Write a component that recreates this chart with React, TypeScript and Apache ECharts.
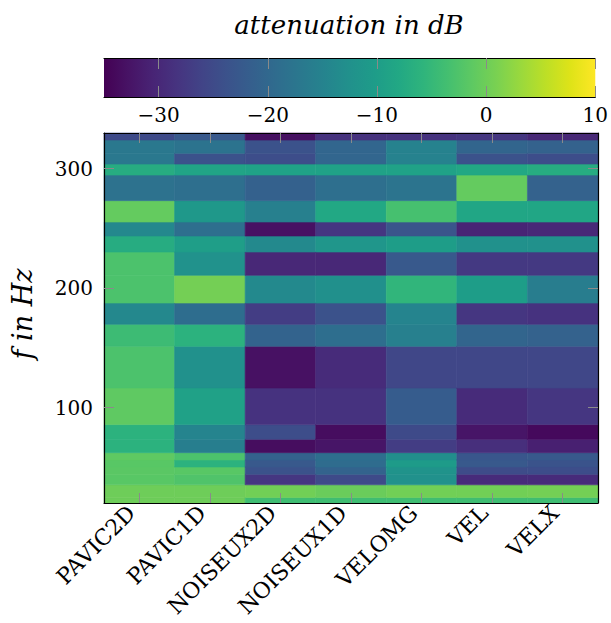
import React, { useEffect, useRef } from "react";
import * as echarts from "echarts";

const categories = ["PAVIC2D", "PAVIC1D", "NOISEUX2D", "NOISEUX1D", "VELOMG", "VEL", "VELX"];

// frequency band edges in Hz (bottom to top), 22 bands
const bandEdges = [20.2, 24.7, 35.4, 44.2, 50.3, 56.2, 62.3, 73.5, 85.8, 116.4, 151.3, 169.7, 187.5, 210.7, 230.2, 243.6, 255.3, 273.2, 294.6, 303.8, 312.8, 323.9, 329.8];

// attenuation in dB for each band (bottom to top)
const pavic2d = [0, 0, -1.8, -1.6, -1.8, -1.2, -6.2, -6.2, -1.2, -2.8, -4.3, -14, -2.8, -2.8, -7.2, -14, -0.8, -18.2, -7.2, -17, -17, -25];
const pavic1d = [0, 0, -2.5, -1.8, -6.2, -2.8, -15.8, -14.7, -9.3, -12.5, -6.2, -19, 0.5, -12.2, -9.8, -18.7, -11, -18.7, -8.8, -23.7, -18, -22.5];
const noiseux2d = [-4, 0.3, -28, -23.7, -22.5, -21, -33.5, -24.5, -28.5, -33, -20.8, -27, -13.8, -30, -13.8, -33, -15.5, -21.2, -9.2, -24.5, -23.7, -33.3];
const noiseux1d = [-4, -0.3, -25, -20.8, -19.3, -18.8, -32.5, -33.5, -28.5, -29.5, -18.8, -23.7, -12.6, -30, -11.5, -28, -8, -18.7, -9.2, -20.3, -20.3, -28.7];
const velomg = [-4, 0.3, -12.5, -12, -10.5, -13, -27, -25, -22, -25.5, -15.5, -14.8, -5.5, -22.5, -10, -23.3, -3.3, -17.7, -9.2, -15.2, -15.2, -28.5];
const vel = [-4, 0.3, -29.5, -24.7, -22.5, -23, -29, -32.5, -29.5, -25.5, -20.5, -28, -10, -27.5, -12.5, -30.5, -8.4, -0.8, -8, -23.7, -20.5, -28];
const velx = [-4, 0.5, -29.5, -24.5, -23.5, -22.5, -31, -34, -28, -25.5, -21, -28.5, -16, -27.5, -12.5, -30, -8.4, -21, -7.2, -24.5, -21, -30];

const columns = [pavic2d, pavic1d, noiseux2d, noiseux1d, velomg, vel, velx];

const yTicks = [100, 200, 300];
const colorTicks = [-30, -20, -10, 0, 10];
const colorMin = -35;
const colorMax = 10;
const yMin = 20.2;
const yMax = 329.8;

const viridis = [
  "#440154", "#471365", "#482475", "#463480", "#414487", "#3b528b", "#355f8d",
  "#2f6c8e", "#2a788e", "#25848e", "#21918c", "#1e9c89", "#22a884", "#2fb47c",
  "#44bf70", "#5ec962", "#7ad151", "#9bd93c", "#bddf26", "#dfe318", "#fde725",
];

const FONT = "DejaVu Serif";
const TICK_COLOR = "#8a8a8a";

export default function App() {
  const ref = useRef<HTMLDivElement>(null);

  useEffect(() => {
    if (!ref.current) return;
    const chart = echarts.init(ref.current, undefined, { renderer: "svg" });

    const cells: number[][] = [];
    columns.forEach((col, ci) => {
      col.forEach((v, ri) => {
        cells.push([ci, bandEdges[ri], bandEdges[ri + 1], v]);
      });
    });

    const minusFmt = (v: number) => String(v).replace("-", "\u2212");

    const option: any = {
      animation: false,
      backgroundColor: "#ffffff",
      textStyle: { fontFamily: FONT },
      grid: [
        { left: 104, top: 133, width: 494, height: 370 },
        { left: 104, top: 58, width: 494, height: 39 },
      ],
      xAxis: [
        {
          type: "category",
          gridIndex: 0,
          data: categories,
          position: "bottom",
          z: 5,
          axisLine: { show: true, lineStyle: { color: "#000", width: 1.2 } },
          axisTick: { show: true, inside: true, alignWithLabel: true, interval: 0, length: 10, lineStyle: { color: TICK_COLOR } },
          axisLabel: { rotate: 45, interval: 0, margin: 14, verticalAlign: "bottom", fontFamily: FONT, fontSize: 22, color: "#000" },
          splitLine: { show: false },
        },
        {
          type: "category",
          gridIndex: 0,
          data: categories,
          position: "top",
          z: 5,
          axisLine: { show: true, lineStyle: { color: "#000", width: 1.2 } },
          axisTick: { show: true, inside: true, alignWithLabel: true, interval: 0, length: 10, lineStyle: { color: TICK_COLOR } },
          axisLabel: { show: false },
          splitLine: { show: false },
        },
        {
          type: "value",
          gridIndex: 1,
          min: colorMin,
          max: colorMax,
          position: "bottom",
          z: 5,
          axisLine: { show: true, lineStyle: { color: "#000", width: 1.2 } },
          axisTick: { show: true, inside: true, length: 11, customValues: colorTicks, lineStyle: { color: TICK_COLOR } },
          axisLabel: { customValues: colorTicks, margin: 8, fontFamily: FONT, fontSize: 20, color: "#000", formatter: minusFmt },
          splitLine: { show: false },
        },
        {
          type: "value",
          gridIndex: 1,
          min: colorMin,
          max: colorMax,
          position: "top",
          z: 5,
          axisLine: { show: true, lineStyle: { color: "#000", width: 1.2 } },
          axisTick: { show: true, inside: true, length: 11, customValues: colorTicks, lineStyle: { color: TICK_COLOR } },
          axisLabel: { show: false },
          splitLine: { show: false },
        },
      ],
      yAxis: [
        {
          type: "value",
          gridIndex: 0,
          min: yMin,
          max: yMax,
          position: "left",
          z: 5,
          axisLine: { show: true, lineStyle: { color: "#000", width: 1.2 } },
          axisTick: { show: true, inside: true, length: 10, customValues: yTicks, lineStyle: { color: TICK_COLOR } },
          axisLabel: { customValues: yTicks, margin: 11, fontFamily: FONT, fontSize: 20, color: "#000" },
          splitLine: { show: false },
        },
        {
          type: "value",
          gridIndex: 0,
          min: yMin,
          max: yMax,
          position: "right",
          z: 5,
          axisLine: { show: true, lineStyle: { color: "#000", width: 1.2 } },
          axisTick: { show: true, inside: true, length: 10, customValues: yTicks, lineStyle: { color: TICK_COLOR } },
          axisLabel: { show: false },
          splitLine: { show: false },
        },
        {
          type: "value",
          gridIndex: 1,
          min: 0,
          max: 1,
          show: false,
        },
      ],
      visualMap: {
        type: "continuous",
        show: false,
        min: colorMin,
        max: colorMax,
        dimension: 3,
        seriesIndex: 0,
        inRange: { color: viridis },
      },
      graphic: [
        {
          type: "text",
          x: 349,
          y: 25,
          style: {
            text: "attenuation in dB",
            fontFamily: FONT,
            fontStyle: "italic",
            fontSize: 26,
            fill: "#000",
            align: "center",
            verticalAlign: "middle",
          },
        },
        {
          type: "text",
          x: 22,
          y: 314,
          rotation: Math.PI / 2,
          style: {
            text: "f in Hz",
            fontFamily: FONT,
            fontStyle: "italic",
            fontSize: 27,
            fill: "#000",
            align: "center",
            verticalAlign: "middle",
          },
        },
      ],
      series: [
        {
          type: "custom",
          xAxisIndex: 0,
          yAxisIndex: 0,
          data: cells,
          encode: { x: 0, y: [1, 2] },
          renderItem: (params: any, api: any) => {
            const c = api.value(0);
            const p0 = api.coord([c, api.value(1)]);
            const p1 = api.coord([c, api.value(2)]);
            const w = api.size([1, 0])[0];
            const color = api.visual("color");
            return {
              type: "rect",
              shape: { x: p0[0] - w / 2, y: p1[1], width: w, height: p0[1] - p1[1] },
              style: { fill: color, stroke: color, lineWidth: 0.6 },
            };
          },
        },
        {
          type: "custom",
          xAxisIndex: 2,
          yAxisIndex: 2,
          data: [[colorMin, colorMax]],
          renderItem: (params: any, api: any) => {
            const p0 = api.coord([api.value(0), 0]);
            const p1 = api.coord([api.value(1), 1]);
            const stops = viridis.map((c, i) => ({ offset: i / (viridis.length - 1), color: c }));
            return {
              type: "rect",
              shape: { x: p0[0], y: p1[1], width: p1[0] - p0[0], height: p0[1] - p1[1] },
              style: { fill: new echarts.graphic.LinearGradient(0, 0, 1, 0, stops) },
            };
          },
        },
      ],
    };

    chart.setOption(option);
    return () => chart.dispose();
  }, []);

  return (
    <div
      ref={ref}
      style={{ position: "absolute", left: 0, top: 0, width: 611, height: 623 }}
    />
  );
}
